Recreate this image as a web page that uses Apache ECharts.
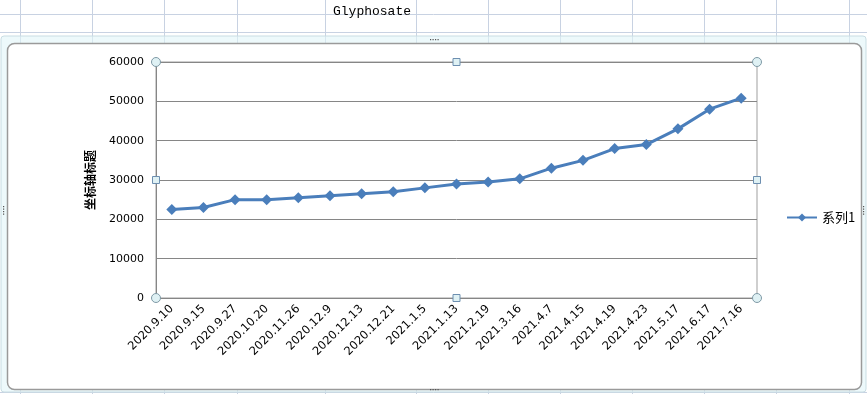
<!DOCTYPE html>
<html>
<head>
<meta charset="utf-8">
<script src="https://cdn.jsdelivr.net/npm/echarts@6/dist/echarts.min.js"></script>
<style>
html,body{margin:0;padding:0;background:#fff;}
#chart{width:867px;height:394px;}
</style>
</head>
<body>
<div id="chart"></div>
<script>
const categories = ['2020.9.10','2020.9.15','2020.9.27','2020.10.20','2020.11.26','2020.12.9','2020.12.13','2020.12.21','2021.1.5','2021.1.13','2021.2.19','2021.3.16','2021.4.7','2021.4.15','2021.4.19','2021.4.23','2021.5.17','2021.6.17','2021.7.16'];
const series1 = [22500,23000,25000,25000,25500,26000,26500,27000,28000,29000,29500,30300,33000,35000,38000,39000,43000,48000,50800];
const yTicks = [0,10000,20000,30000,40000,50000,60000];
const sheetColX = [20,92,164,237,325,416,488,560,632,704,776,849];
const sheetRowY = [14,32];

const chart = echarts.init(document.getElementById('chart'));
const gridColor = '#c8d2e2';
const bg = [];
sheetColX.forEach(x => bg.push({type:'line', z:-10, shape:{x1:x+0.5,y1:0,x2:x+0.5,y2:394}, style:{stroke:gridColor,lineWidth:1}}));
sheetRowY.forEach(y => bg.push({type:'line', z:-10, shape:{x1:0,y1:y+0.5,x2:867,y2:y+0.5}, style:{stroke:gridColor,lineWidth:1}}));
bg.push({type:'line', z:-10, shape:{x1:0,y1:392.5,x2:867,y2:392.5}, style:{stroke:gridColor,lineWidth:1}});
// selection band
bg.push({type:'rect', z:-9, shape:{x:1,y:36,width:865,height:356,r:3}, style:{fill:'rgba(225,245,248,0.6)',stroke:'#c9dde3',lineWidth:1}});
// chart area
bg.push({type:'rect', z:-8, shape:{x:7.5,y:43.5,width:854,height:346,r:[7,7,7,7]}, style:{fill:'#ffffff',stroke:'#9a9a9a',lineWidth:1.5}});
// handles
function circ(x,y){return {type:'circle', z:50, shape:{cx:x,cy:y,r:4.5}, style:{fill:'#dff1f4',stroke:'#7f9aa6',lineWidth:1}};}
function sq(x,y){return {type:'rect', z:50, shape:{x:x-3.5,y:y-3.5,width:7,height:7}, style:{fill:'#dff1f4',stroke:'#6d8fb0',lineWidth:1}};}
bg.push(circ(156,62),circ(757,62),circ(156,298),circ(757,298),sq(456.5,62),sq(456.5,298),sq(156,180),sq(757,180));
// dotted grips
[[432,39],[432,389]].forEach(p=>{
  for(let i=0;i<4;i++){bg.push({type:'rect',z:51,shape:{x:p[0]+i*2.5-2,y:p[1],width:1.2,height:1.2},style:{fill:'#555'}});}
});
[[3,206],[863,206]].forEach(p=>{
  for(let i=0;i<4;i++){bg.push({type:'rect',z:51,shape:{x:p[0],y:p[1]+i*2.5,width:1.2,height:1.2},style:{fill:'#555'}});}
});

chart.setOption({
  animation:false,
  title:{text:'Glyphosate', left:367, top:0, textAlign:'center',
    textStyle:{fontFamily:'Liberation Mono, DejaVu Sans Mono, monospace', fontSize:13, fontWeight:'normal', color:'#000'}},
  graphic:bg,
  legend:{top:206, left:781, orient:'vertical', data:['系列1'], itemWidth:30, itemHeight:10,
    textStyle:{fontFamily:'Noto Sans CJK SC', fontSize:13, color:'#000'}, itemGap:5},
  grid:{left:156, right:110, top:62, bottom:96, show:true, borderColor:'#c0c0c0', borderWidth:1.5, backgroundColor:'transparent'},
  xAxis:{type:'category', data:categories, boundaryGap:true,
    axisLine:{lineStyle:{color:'#868686', width:1}}, axisTick:{show:false},
    axisLabel:{rotate:45, interval:0, color:'#000', fontFamily:'DejaVu Sans, Verdana, sans-serif', fontSize:11.5, margin:9}},
  yAxis:{type:'value', min:0, max:60000, interval:10000,
    name:'坐标轴标题', nameLocation:'middle', nameRotate:90, nameGap:60,
    nameTextStyle:{fontFamily:'Noto Sans CJK SC', fontWeight:'bold', fontSize:12, color:'#000'},
    axisLine:{show:true, lineStyle:{color:'#868686', width:1}}, axisTick:{show:false},
    splitLine:{lineStyle:{color:'#868686', width:1}},
    axisLabel:{color:'#000', fontFamily:'DejaVu Sans, Verdana, sans-serif', fontSize:11, margin:12,
      formatter:v=>yTicks.includes(v)?String(v):''}},
  series:[{name:'系列1', type:'line', data:series1, symbol:'diamond', symbolSize:11,
    lineStyle:{color:'#4a7ebb', width:3}, itemStyle:{color:'#4a7ebb'}}]
});
</script>
</body>
</html>
